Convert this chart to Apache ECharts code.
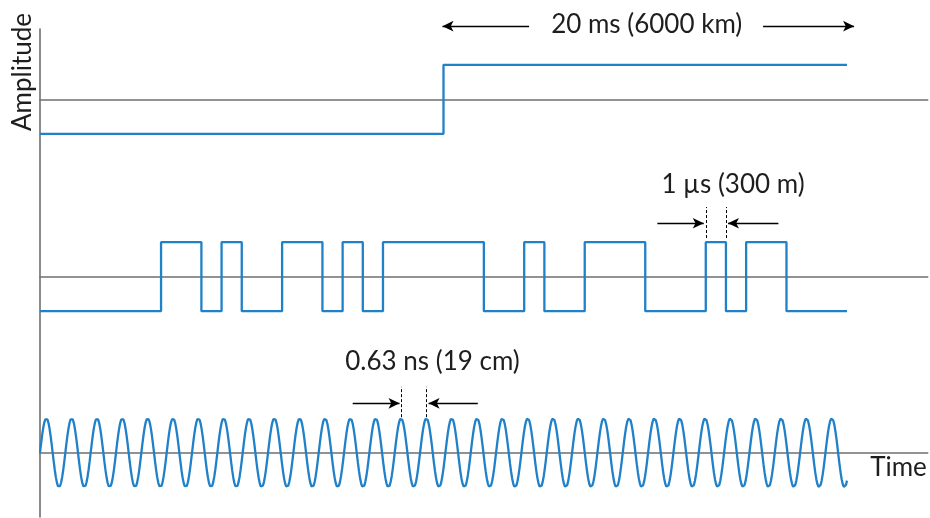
<!DOCTYPE html>
<html>
<head>
<meta charset="utf-8">
<script src="https://cdn.jsdelivr.net/npm/echarts@6/dist/echarts.min.js"></script>
<style>
  html, body { margin: 0; padding: 0; background: #ffffff; }
  #chart { width: 930px; height: 518px; }
</style>
</head>
<body>
<div id="chart"></div>
<script>
// Time is measured in chips of the spreading code (1 chip = 1 µs).
const chipCount = 40;

// Navigation data: one bit edge halfway across the window.
const dataBitEdges  = [0, 20, 40];
const dataBitLevels = [-1, 1];

// Spreading code, one entry per chip (1 = high, 0 = low).
const codeChips = [0, 0, 0, 0, 0, 0, 1, 1, 0, 1, 0, 0, 1, 1, 0, 1, 0, 1, 1, 1,
                   1, 1, 0, 0, 1, 0, 0, 1, 1, 1, 0, 0, 0, 1, 0, 1, 1, 0, 0, 0];

// Carrier: a pure sinusoid, so it is described by its cycle count over the window.
const carrierCycles = 31.85;
const carrierSamplesPerCycle = 24;

// Annotation texts
const labels = {
  dataBit: '20 ms (6000 km)',
  chip: '1 µs (300 m)',
  carrier: '0.63 ns (19 cm)',
  xName: 'Time',
  yName: 'Amplitude'
};

// ---- build series data ------------------------------------------------------
const dataBitSeries = [];
dataBitLevels.forEach((lv, i) => dataBitSeries.push([dataBitEdges[i], lv]));
dataBitSeries.push([dataBitEdges[dataBitEdges.length - 1], dataBitLevels[dataBitLevels.length - 1]]);

const codeSeries = codeChips.map((c, i) => [i, c ? 1 : -1]);
codeSeries.push([chipCount, codeChips[codeChips.length - 1] ? 1 : -1]);

const carrierPeriod = chipCount / carrierCycles;
const carrierSeries = [];
const nSamples = Math.round(carrierCycles * carrierSamplesPerCycle);
for (let i = 0; i <= nSamples; i++) {
  const t = chipCount * i / nSamples;
  carrierSeries.push([t, Math.sin(2 * Math.PI * t / carrierPeriod)]);
}
const peakAt = k => (k + 0.25) * carrierPeriod;

// ---- layout -----------------------------------------------------------------
const BLUE = '#2080c8';
const BASE = '#6f6f6f';
const INK = '#1e1e1e';
const FONT = 'Lato';
const unitPx = 34.5;
// each strip: baseline pixel row, and how far the value axis reaches below / above zero
const strips = [
  { base: 99.3,  low: 2.4, high: 2.6 },
  { base: 276.7, low: 2.4, high: 2.6 },
  { base: 452.7, low: 1.8, high: 2.6 }
];
const xMax = 44;
const gridLeft = 40;
const gridW = xMax * (807 / chipCount);

const grids = strips.map(s => ({
  left: gridLeft, width: gridW,
  top: s.base - s.high * unitPx, height: (s.low + s.high) * unitPx
}));
grids.push({ left: gridLeft, width: gridW, top: 29, height: 488 });

const xAxes = grids.map((g, i) => ({
  type: 'value', gridIndex: i, min: 0, max: xMax,
  axisLine: { show: i < 3, onZero: true, lineStyle: { color: BASE, width: 1.6 } },
  axisTick: { show: false }, axisLabel: { show: false }, splitLine: { show: false }
}));
const yAxes = grids.map((g, i) => ({
  type: 'value', gridIndex: i,
  min: i < 3 ? -strips[i].low : -1, max: i < 3 ? strips[i].high : 1,
  axisLine: { show: i === 3, lineStyle: { color: BASE, width: 1.6 } },
  axisTick: { show: false }, axisLabel: { show: false }, splitLine: { show: false }
}));

const arrowStyle = { color: '#000', width: 1.3, type: 'solid' };
const dashStyle = { color: '#000', width: 1, type: [3, 2] };
const arrowPair = (x0, x1, y) => [
  { coord: [x0, y], symbol: 'none' },
  { coord: [x1, y], symbol: 'arrow', symbolSize: [8, 11] }
];
const dashPair = (x, y0, y1) => [
  { coord: [x, y0], symbol: 'none', lineStyle: dashStyle },
  { coord: [x, y1], symbol: 'none' }
];

const baseLine = (data, idx, markData) => ({
  type: 'line', xAxisIndex: idx, yAxisIndex: idx, data,
  showSymbol: false, silent: true, animation: false, clip: false,
  lineStyle: { color: BLUE, width: 2.3 },
  markLine: {
    silent: true, animation: false, label: { show: false },
    lineStyle: arrowStyle, data: markData
  }
});

const topSeries = baseLine(dataBitSeries, 0, [
  arrowPair(24.24, 19.95, 2.12),
  arrowPair(35.84, 40.35, 2.12)
]);
topSeries.step = 'end';

const midSeries = baseLine(codeSeries, 1, [
  arrowPair(30.6, 32.9, 1.55),
  arrowPair(36.6, 34.1, 1.55),
  dashPair(33, 1.12, 2.02),
  dashPair(34, 1.12, 2.02)
]);
midSeries.step = 'end';

const botSeries = baseLine(carrierSeries, 2, [
  arrowPair(15.5, 17.82, 1.43),
  arrowPair(21.7, 19.26, 1.43),
  dashPair(peakAt(14), 1.03, 1.91),
  dashPair(peakAt(15), 1.03, 1.91)
]);

const textStyle = (text, x, y, extra) => Object.assign({
  type: 'text', x, y, silent: true,
  style: { text, fill: INK, font: '26px ' + FONT, align: 'center', verticalAlign: 'middle' }
}, extra || {});

const option = {
  animation: false,
  backgroundColor: '#ffffff',
  grid: grids,
  xAxis: xAxes,
  yAxis: yAxes,
  series: [topSeries, midSeries, botSeries],
  graphic: [
    textStyle(labels.dataBit, 646.7, 25),
    textStyle(labels.chip, 733, 185),
    textStyle(labels.carrier, 432.5, 362),
    textStyle(labels.xName, 898.5, 468),
    textStyle(labels.yName, 23, 72, { rotation: Math.PI / 2 })
  ]
};

const chart = echarts.init(document.getElementById('chart'), null, { renderer: 'canvas' });
chart.setOption(option);
</script>
</body>
</html>
